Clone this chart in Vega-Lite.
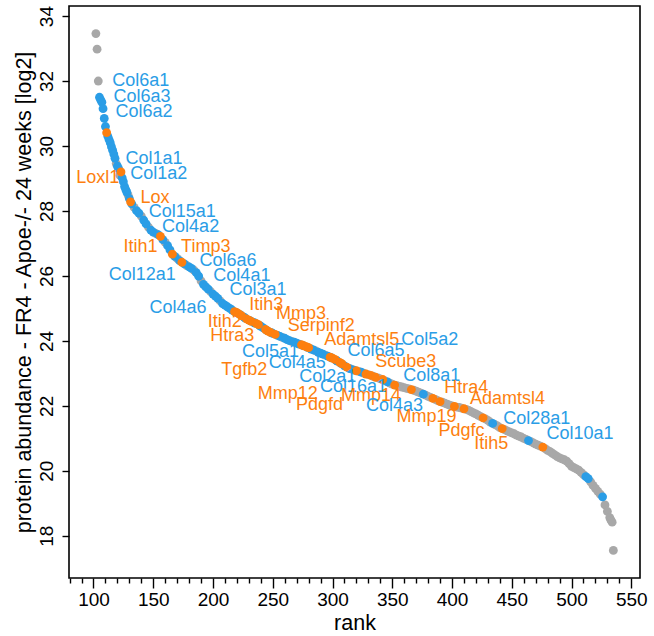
{
  "$schema": "https://vega.github.io/schema/vega-lite/v6.json",
  "width": 571,
  "height": 572,
  "autosize": "none",
  "padding": {"left": 69, "top": 6, "right": 13, "bottom": 58},
  "background": "white",
  "config": {
    "view": {"stroke": "black", "strokeWidth": 1.6},
    "axis": {
      "labelFont": "Liberation Sans",
      "labelFontSize": 19,
      "labelColor": "black",
      "titleFont": "Liberation Sans",
      "titleFontSize": 21.5,
      "titleFontWeight": "normal",
      "titleColor": "black",
      "tickColor": "black",
      "tickWidth": 1.4,
      "grid": false,
      "domain": false
    }
  },
  "datasets": {
    "points": [
      {"rank": 102, "abundance": 33.46, "group": "other"},
      {"rank": 103, "abundance": 32.98, "group": "other"},
      {"rank": 104, "abundance": 32.0, "group": "other"},
      {"rank": 119, "abundance": 29.46, "group": "other"},
      {"rank": 122, "abundance": 29.1, "group": "other"},
      {"rank": 129, "abundance": 28.48, "group": "other"},
      {"rank": 134, "abundance": 28.11, "group": "other"},
      {"rank": 140, "abundance": 27.84, "group": "other"},
      {"rank": 146, "abundance": 27.5, "group": "other"},
      {"rank": 152, "abundance": 27.31, "group": "other"},
      {"rank": 160, "abundance": 27.03, "group": "other"},
      {"rank": 170, "abundance": 26.54, "group": "other"},
      {"rank": 178, "abundance": 26.32, "group": "other"},
      {"rank": 184, "abundance": 26.18, "group": "other"},
      {"rank": 190, "abundance": 25.85, "group": "other"},
      {"rank": 198, "abundance": 25.52, "group": "other"},
      {"rank": 206, "abundance": 25.23, "group": "other"},
      {"rank": 258, "abundance": 24.11, "group": "other"},
      {"rank": 266, "abundance": 23.98, "group": "other"},
      {"rank": 286, "abundance": 23.69, "group": "other"},
      {"rank": 294, "abundance": 23.56, "group": "other"},
      {"rank": 316, "abundance": 23.13, "group": "other"},
      {"rank": 322, "abundance": 23.06, "group": "other"},
      {"rank": 326, "abundance": 23.01, "group": "other"},
      {"rank": 330, "abundance": 22.96, "group": "other"},
      {"rank": 334, "abundance": 22.91, "group": "other"},
      {"rank": 338, "abundance": 22.86, "group": "other"},
      {"rank": 340, "abundance": 22.83, "group": "other"},
      {"rank": 344, "abundance": 22.77, "group": "other"},
      {"rank": 348, "abundance": 22.7, "group": "other"},
      {"rank": 350, "abundance": 22.67, "group": "other"},
      {"rank": 354, "abundance": 22.62, "group": "other"},
      {"rank": 356, "abundance": 22.6, "group": "other"},
      {"rank": 358, "abundance": 22.58, "group": "other"},
      {"rank": 360, "abundance": 22.56, "group": "other"},
      {"rank": 362, "abundance": 22.54, "group": "other"},
      {"rank": 364, "abundance": 22.52, "group": "other"},
      {"rank": 368, "abundance": 22.48, "group": "other"},
      {"rank": 370, "abundance": 22.45, "group": "other"},
      {"rank": 372, "abundance": 22.42, "group": "other"},
      {"rank": 374, "abundance": 22.39, "group": "other"},
      {"rank": 378, "abundance": 22.33, "group": "other"},
      {"rank": 380, "abundance": 22.29, "group": "other"},
      {"rank": 382, "abundance": 22.26, "group": "other"},
      {"rank": 386, "abundance": 22.2, "group": "other"},
      {"rank": 388, "abundance": 22.16, "group": "other"},
      {"rank": 392, "abundance": 22.11, "group": "other"},
      {"rank": 394, "abundance": 22.08, "group": "other"},
      {"rank": 396, "abundance": 22.05, "group": "other"},
      {"rank": 398, "abundance": 22.02, "group": "other"},
      {"rank": 400, "abundance": 22.0, "group": "other"},
      {"rank": 404, "abundance": 21.96, "group": "other"},
      {"rank": 406, "abundance": 21.95, "group": "other"},
      {"rank": 408, "abundance": 21.93, "group": "other"},
      {"rank": 412, "abundance": 21.89, "group": "other"},
      {"rank": 414, "abundance": 21.86, "group": "other"},
      {"rank": 416, "abundance": 21.82, "group": "other"},
      {"rank": 418, "abundance": 21.78, "group": "other"},
      {"rank": 420, "abundance": 21.75, "group": "other"},
      {"rank": 422, "abundance": 21.71, "group": "other"},
      {"rank": 424, "abundance": 21.67, "group": "other"},
      {"rank": 428, "abundance": 21.6, "group": "other"},
      {"rank": 430, "abundance": 21.55, "group": "other"},
      {"rank": 432, "abundance": 21.5, "group": "other"},
      {"rank": 436, "abundance": 21.42, "group": "other"},
      {"rank": 438, "abundance": 21.38, "group": "other"},
      {"rank": 440, "abundance": 21.33, "group": "other"},
      {"rank": 444, "abundance": 21.27, "group": "other"},
      {"rank": 446, "abundance": 21.23, "group": "other"},
      {"rank": 448, "abundance": 21.2, "group": "other"},
      {"rank": 450, "abundance": 21.17, "group": "other"},
      {"rank": 452, "abundance": 21.14, "group": "other"},
      {"rank": 454, "abundance": 21.1, "group": "other"},
      {"rank": 456, "abundance": 21.07, "group": "other"},
      {"rank": 458, "abundance": 21.04, "group": "other"},
      {"rank": 460, "abundance": 21.0, "group": "other"},
      {"rank": 462, "abundance": 20.97, "group": "other"},
      {"rank": 466, "abundance": 20.9, "group": "other"},
      {"rank": 468, "abundance": 20.86, "group": "other"},
      {"rank": 470, "abundance": 20.82, "group": "other"},
      {"rank": 472, "abundance": 20.79, "group": "other"},
      {"rank": 474, "abundance": 20.76, "group": "other"},
      {"rank": 478, "abundance": 20.68, "group": "other"},
      {"rank": 480, "abundance": 20.63, "group": "other"},
      {"rank": 482, "abundance": 20.59, "group": "other"},
      {"rank": 484, "abundance": 20.54, "group": "other"},
      {"rank": 486, "abundance": 20.49, "group": "other"},
      {"rank": 488, "abundance": 20.44, "group": "other"},
      {"rank": 490, "abundance": 20.4, "group": "other"},
      {"rank": 492, "abundance": 20.37, "group": "other"},
      {"rank": 494, "abundance": 20.34, "group": "other"},
      {"rank": 496, "abundance": 20.3, "group": "other"},
      {"rank": 498, "abundance": 20.22, "group": "other"},
      {"rank": 500, "abundance": 20.14, "group": "other"},
      {"rank": 502, "abundance": 20.1, "group": "other"},
      {"rank": 504, "abundance": 20.06, "group": "other"},
      {"rank": 506, "abundance": 20.02, "group": "other"},
      {"rank": 508, "abundance": 19.95, "group": "other"},
      {"rank": 510, "abundance": 19.88, "group": "other"},
      {"rank": 516, "abundance": 19.66, "group": "other"},
      {"rank": 518, "abundance": 19.55, "group": "other"},
      {"rank": 520, "abundance": 19.46, "group": "other"},
      {"rank": 522, "abundance": 19.37, "group": "other"},
      {"rank": 524, "abundance": 19.28, "group": "other"},
      {"rank": 528, "abundance": 18.95, "group": "other"},
      {"rank": 530, "abundance": 18.75, "group": "other"},
      {"rank": 532, "abundance": 18.56, "group": "other"},
      {"rank": 533, "abundance": 18.48, "group": "other"},
      {"rank": 534, "abundance": 18.42, "group": "other"},
      {"rank": 535, "abundance": 17.55, "group": "other"},
      {"rank": 105, "abundance": 31.5, "group": "collagen"},
      {"rank": 106, "abundance": 31.42, "group": "collagen"},
      {"rank": 107, "abundance": 31.35, "group": "collagen"},
      {"rank": 108, "abundance": 31.15, "group": "collagen"},
      {"rank": 109, "abundance": 30.85, "group": "collagen"},
      {"rank": 110, "abundance": 30.6, "group": "collagen"},
      {"rank": 112, "abundance": 30.3, "group": "collagen"},
      {"rank": 113, "abundance": 30.2, "group": "collagen"},
      {"rank": 114, "abundance": 30.1, "group": "collagen"},
      {"rank": 115, "abundance": 29.98, "group": "collagen"},
      {"rank": 116, "abundance": 29.87, "group": "collagen"},
      {"rank": 117, "abundance": 29.75, "group": "collagen"},
      {"rank": 118, "abundance": 29.62, "group": "collagen"},
      {"rank": 120, "abundance": 29.38, "group": "collagen"},
      {"rank": 121, "abundance": 29.3, "group": "collagen"},
      {"rank": 124, "abundance": 29.02, "group": "collagen"},
      {"rank": 125, "abundance": 28.9, "group": "collagen"},
      {"rank": 126, "abundance": 28.75, "group": "collagen"},
      {"rank": 127, "abundance": 28.66, "group": "collagen"},
      {"rank": 128, "abundance": 28.57, "group": "collagen"},
      {"rank": 130, "abundance": 28.38, "group": "collagen"},
      {"rank": 132, "abundance": 28.22, "group": "collagen"},
      {"rank": 136, "abundance": 28.01, "group": "collagen"},
      {"rank": 138, "abundance": 27.93, "group": "collagen"},
      {"rank": 142, "abundance": 27.72, "group": "collagen"},
      {"rank": 144, "abundance": 27.6, "group": "collagen"},
      {"rank": 148, "abundance": 27.41, "group": "collagen"},
      {"rank": 150, "abundance": 27.35, "group": "collagen"},
      {"rank": 154, "abundance": 27.27, "group": "collagen"},
      {"rank": 158, "abundance": 27.12, "group": "collagen"},
      {"rank": 162, "abundance": 26.93, "group": "collagen"},
      {"rank": 164, "abundance": 26.8, "group": "collagen"},
      {"rank": 168, "abundance": 26.6, "group": "collagen"},
      {"rank": 172, "abundance": 26.47, "group": "collagen"},
      {"rank": 176, "abundance": 26.37, "group": "collagen"},
      {"rank": 180, "abundance": 26.28, "group": "collagen"},
      {"rank": 182, "abundance": 26.23, "group": "collagen"},
      {"rank": 186, "abundance": 26.1, "group": "collagen"},
      {"rank": 188, "abundance": 25.99, "group": "collagen"},
      {"rank": 192, "abundance": 25.74, "group": "collagen"},
      {"rank": 194, "abundance": 25.66, "group": "collagen"},
      {"rank": 196, "abundance": 25.59, "group": "collagen"},
      {"rank": 200, "abundance": 25.44, "group": "collagen"},
      {"rank": 202, "abundance": 25.38, "group": "collagen"},
      {"rank": 204, "abundance": 25.31, "group": "collagen"},
      {"rank": 208, "abundance": 25.15, "group": "collagen"},
      {"rank": 210, "abundance": 25.1, "group": "collagen"},
      {"rank": 212, "abundance": 25.05, "group": "collagen"},
      {"rank": 214, "abundance": 25.0, "group": "collagen"},
      {"rank": 216, "abundance": 24.95, "group": "collagen"},
      {"rank": 219, "abundance": 24.88, "group": "collagen"},
      {"rank": 223, "abundance": 24.8, "group": "collagen"},
      {"rank": 226, "abundance": 24.73, "group": "collagen"},
      {"rank": 227, "abundance": 24.7, "group": "collagen"},
      {"rank": 231, "abundance": 24.62, "group": "collagen"},
      {"rank": 234, "abundance": 24.57, "group": "collagen"},
      {"rank": 235, "abundance": 24.55, "group": "collagen"},
      {"rank": 239, "abundance": 24.47, "group": "collagen"},
      {"rank": 240, "abundance": 24.45, "group": "collagen"},
      {"rank": 242, "abundance": 24.4, "group": "collagen"},
      {"rank": 245, "abundance": 24.32, "group": "collagen"},
      {"rank": 249, "abundance": 24.25, "group": "collagen"},
      {"rank": 250, "abundance": 24.23, "group": "collagen"},
      {"rank": 254, "abundance": 24.17, "group": "collagen"},
      {"rank": 256, "abundance": 24.14, "group": "collagen"},
      {"rank": 260, "abundance": 24.08, "group": "collagen"},
      {"rank": 262, "abundance": 24.04, "group": "collagen"},
      {"rank": 264, "abundance": 24.01, "group": "collagen"},
      {"rank": 268, "abundance": 23.96, "group": "collagen"},
      {"rank": 270, "abundance": 23.93, "group": "collagen"},
      {"rank": 272, "abundance": 23.9, "group": "collagen"},
      {"rank": 275, "abundance": 23.86, "group": "collagen"},
      {"rank": 279, "abundance": 23.8, "group": "collagen"},
      {"rank": 282, "abundance": 23.75, "group": "collagen"},
      {"rank": 284, "abundance": 23.72, "group": "collagen"},
      {"rank": 288, "abundance": 23.65, "group": "collagen"},
      {"rank": 290, "abundance": 23.62, "group": "collagen"},
      {"rank": 292, "abundance": 23.59, "group": "collagen"},
      {"rank": 296, "abundance": 23.53, "group": "collagen"},
      {"rank": 299, "abundance": 23.48, "group": "collagen"},
      {"rank": 303, "abundance": 23.4, "group": "collagen"},
      {"rank": 304, "abundance": 23.38, "group": "collagen"},
      {"rank": 307, "abundance": 23.31, "group": "collagen"},
      {"rank": 310, "abundance": 23.23, "group": "collagen"},
      {"rank": 314, "abundance": 23.15, "group": "collagen"},
      {"rank": 318, "abundance": 23.1, "group": "collagen"},
      {"rank": 324, "abundance": 23.04, "group": "collagen"},
      {"rank": 346, "abundance": 22.74, "group": "collagen"},
      {"rank": 376, "abundance": 22.36, "group": "collagen"},
      {"rank": 434, "abundance": 21.46, "group": "collagen"},
      {"rank": 464, "abundance": 20.93, "group": "collagen"},
      {"rank": 512, "abundance": 19.82, "group": "collagen"},
      {"rank": 514, "abundance": 19.76, "group": "collagen"},
      {"rank": 526, "abundance": 19.2, "group": "collagen"},
      {"rank": 111, "abundance": 30.41, "group": "ECM regulator"},
      {"rank": 123, "abundance": 29.2, "group": "ECM regulator"},
      {"rank": 131, "abundance": 28.28, "group": "ECM regulator"},
      {"rank": 156, "abundance": 27.22, "group": "ECM regulator"},
      {"rank": 166, "abundance": 26.67, "group": "ECM regulator"},
      {"rank": 174, "abundance": 26.42, "group": "ECM regulator"},
      {"rank": 218, "abundance": 24.9, "group": "ECM regulator"},
      {"rank": 220, "abundance": 24.87, "group": "ECM regulator"},
      {"rank": 222, "abundance": 24.82, "group": "ECM regulator"},
      {"rank": 224, "abundance": 24.77, "group": "ECM regulator"},
      {"rank": 228, "abundance": 24.68, "group": "ECM regulator"},
      {"rank": 230, "abundance": 24.64, "group": "ECM regulator"},
      {"rank": 232, "abundance": 24.6, "group": "ECM regulator"},
      {"rank": 236, "abundance": 24.54, "group": "ECM regulator"},
      {"rank": 238, "abundance": 24.5, "group": "ECM regulator"},
      {"rank": 244, "abundance": 24.35, "group": "ECM regulator"},
      {"rank": 246, "abundance": 24.3, "group": "ECM regulator"},
      {"rank": 248, "abundance": 24.26, "group": "ECM regulator"},
      {"rank": 252, "abundance": 24.2, "group": "ECM regulator"},
      {"rank": 274, "abundance": 23.88, "group": "ECM regulator"},
      {"rank": 276, "abundance": 23.85, "group": "ECM regulator"},
      {"rank": 278, "abundance": 23.82, "group": "ECM regulator"},
      {"rank": 280, "abundance": 23.79, "group": "ECM regulator"},
      {"rank": 298, "abundance": 23.5, "group": "ECM regulator"},
      {"rank": 300, "abundance": 23.47, "group": "ECM regulator"},
      {"rank": 302, "abundance": 23.43, "group": "ECM regulator"},
      {"rank": 306, "abundance": 23.34, "group": "ECM regulator"},
      {"rank": 308, "abundance": 23.29, "group": "ECM regulator"},
      {"rank": 312, "abundance": 23.19, "group": "ECM regulator"},
      {"rank": 320, "abundance": 23.08, "group": "ECM regulator"},
      {"rank": 328, "abundance": 22.98, "group": "ECM regulator"},
      {"rank": 332, "abundance": 22.94, "group": "ECM regulator"},
      {"rank": 336, "abundance": 22.88, "group": "ECM regulator"},
      {"rank": 342, "abundance": 22.81, "group": "ECM regulator"},
      {"rank": 352, "abundance": 22.64, "group": "ECM regulator"},
      {"rank": 366, "abundance": 22.5, "group": "ECM regulator"},
      {"rank": 384, "abundance": 22.23, "group": "ECM regulator"},
      {"rank": 390, "abundance": 22.13, "group": "ECM regulator"},
      {"rank": 402, "abundance": 21.98, "group": "ECM regulator"},
      {"rank": 410, "abundance": 21.91, "group": "ECM regulator"},
      {"rank": 426, "abundance": 21.63, "group": "ECM regulator"},
      {"rank": 442, "abundance": 21.3, "group": "ECM regulator"},
      {"rank": 476, "abundance": 20.73, "group": "ECM regulator"}
    ],
    "labels": [
      {"protein": "Col6a1", "label_rank": 115.6, "label_abundance": 32.0, "group": "collagen"},
      {"protein": "Col6a3", "label_rank": 116.7, "label_abundance": 31.51, "group": "collagen"},
      {"protein": "Col6a2", "label_rank": 118.4, "label_abundance": 31.04, "group": "collagen"},
      {"protein": "Col1a1", "label_rank": 126.8, "label_abundance": 29.59, "group": "collagen"},
      {"protein": "Col1a2", "label_rank": 130.7, "label_abundance": 29.14, "group": "collagen"},
      {"protein": "Loxl1", "label_rank": 85.5, "label_abundance": 29.0, "group": "ECM regulator"},
      {"protein": "Lox", "label_rank": 139.3, "label_abundance": 28.41, "group": "ECM regulator"},
      {"protein": "Col15a1", "label_rank": 146.2, "label_abundance": 27.97, "group": "collagen"},
      {"protein": "Col4a2", "label_rank": 157.4, "label_abundance": 27.51, "group": "collagen"},
      {"protein": "Itih1", "label_rank": 125.1, "label_abundance": 26.89, "group": "ECM regulator"},
      {"protein": "Timp3", "label_rank": 173.3, "label_abundance": 26.89, "group": "ECM regulator"},
      {"protein": "Col6a6", "label_rank": 188.6, "label_abundance": 26.45, "group": "collagen"},
      {"protein": "Col12a1", "label_rank": 112.8, "label_abundance": 26.02, "group": "collagen"},
      {"protein": "Col4a1", "label_rank": 200.3, "label_abundance": 25.99, "group": "collagen"},
      {"protein": "Col3a1", "label_rank": 213.7, "label_abundance": 25.56, "group": "collagen"},
      {"protein": "Col4a6", "label_rank": 146.8, "label_abundance": 25.0, "group": "collagen"},
      {"protein": "Itih3", "label_rank": 230.4, "label_abundance": 25.1, "group": "ECM regulator"},
      {"protein": "Itih2", "label_rank": 195.6, "label_abundance": 24.58, "group": "ECM regulator"},
      {"protein": "Htra3", "label_rank": 197.6, "label_abundance": 24.14, "group": "ECM regulator"},
      {"protein": "Col5a1", "label_rank": 224.3, "label_abundance": 23.66, "group": "collagen"},
      {"protein": "Tgfb2", "label_rank": 206.8, "label_abundance": 23.1, "group": "ECM regulator"},
      {"protein": "Mmp3", "label_rank": 252.8, "label_abundance": 24.84, "group": "ECM regulator"},
      {"protein": "Serpinf2", "label_rank": 262.5, "label_abundance": 24.45, "group": "ECM regulator"},
      {"protein": "Adamtsl5", "label_rank": 293.1, "label_abundance": 24.04, "group": "ECM regulator"},
      {"protein": "Col5a2", "label_rank": 357.5, "label_abundance": 24.04, "group": "collagen"},
      {"protein": "Col6a5", "label_rank": 312.6, "label_abundance": 23.68, "group": "collagen"},
      {"protein": "Col4a5", "label_rank": 246.6, "label_abundance": 23.32, "group": "collagen"},
      {"protein": "Scube3", "label_rank": 335.8, "label_abundance": 23.34, "group": "ECM regulator"},
      {"protein": "Col2a1", "label_rank": 272.2, "label_abundance": 22.89, "group": "collagen"},
      {"protein": "Col8a1", "label_rank": 359.2, "label_abundance": 22.91, "group": "collagen"},
      {"protein": "Col16a1", "label_rank": 289.5, "label_abundance": 22.58, "group": "collagen"},
      {"protein": "Mmp12", "label_rank": 237.4, "label_abundance": 22.38, "group": "ECM regulator"},
      {"protein": "Mmp14", "label_rank": 307.1, "label_abundance": 22.3, "group": "ECM regulator"},
      {"protein": "Htra4", "label_rank": 393.5, "label_abundance": 22.54, "group": "ECM regulator"},
      {"protein": "Pdgfd", "label_rank": 269.5, "label_abundance": 22.02, "group": "ECM regulator"},
      {"protein": "Col4a3", "label_rank": 328.0, "label_abundance": 22.0, "group": "collagen"},
      {"protein": "Adamtsl4", "label_rank": 415.0, "label_abundance": 22.2, "group": "ECM regulator"},
      {"protein": "Mmp19", "label_rank": 353.6, "label_abundance": 21.66, "group": "ECM regulator"},
      {"protein": "Col28a1", "label_rank": 442.8, "label_abundance": 21.61, "group": "collagen"},
      {"protein": "Pdgfc", "label_rank": 388.7, "label_abundance": 21.23, "group": "ECM regulator"},
      {"protein": "Col10a1", "label_rank": 479.0, "label_abundance": 21.13, "group": "collagen"},
      {"protein": "Itih5", "label_rank": 418.6, "label_abundance": 20.84, "group": "ECM regulator"}
    ]
  },
  "layer": [
    {
      "data": {"name": "points"},
      "mark": {"type": "circle", "size": 78, "opacity": 1, "strokeWidth": 0},
      "encoding": {
        "x": {
          "field": "rank",
          "type": "quantitative",
          "scale": {"domain": [79.5, 557.3], "nice": false, "zero": false},
          "axis": {
            "title": "rank",
            "values": [80, 90, 100, 110, 120, 130, 140, 150, 160, 170, 180, 190, 200, 210, 220, 230, 240, 250, 260, 270, 280, 290, 300, 310, 320, 330, 340, 350, 360, 370, 380, 390, 400, 410, 420, 430, 440, 450, 460, 470, 480, 490, 500, 510, 520, 530, 540, 550],
            "tickCount": 200,
            "format": "d",
            "labelExpr": "datum.value % 50 === 0 ? datum.label : ''",
            "tickSize": {"condition": {"test": "datum.value % 50 === 0", "value": 10}, "value": 5},
            "labelPadding": 2,
            "labelFlush": false,
            "labelOverlap": false,
            "titlePadding": 3
          }
        },
        "y": {
          "field": "abundance",
          "type": "quantitative",
          "scale": {"domain": [16.7, 34.31], "nice": false, "zero": false},
          "axis": {
            "title": "protein abundance - FR4 - Apoe-/- 24 weeks [log2]",
            "values": [18, 20, 22, 24, 26, 28, 30, 32, 34],
            "tickCount": 50,
            "format": "d",
            "tickSize": 7,
            "labelAngle": -90,
            "labelAlign": "center",
            "labelBaseline": "bottom",
            "labelPadding": 6,
            "labelFlush": false,
            "labelOverlap": false,
            "titlePadding": 2
          }
        },
        "color": {
          "field": "group",
          "type": "nominal",
          "scale": {"domain": ["other", "collagen", "ECM regulator"], "range": ["#a8a8a8", "#2a9de6", "#fd7f0f"]},
          "legend": null
        }
      }
    },
    {
      "data": {"name": "labels"},
      "mark": {"type": "text", "align": "left", "baseline": "middle", "font": "Liberation Sans", "fontSize": 18},
      "encoding": {
        "x": {"field": "label_rank", "type": "quantitative"},
        "y": {"field": "label_abundance", "type": "quantitative"},
        "text": {"field": "protein"},
        "color": {"field": "group", "type": "nominal", "legend": null}
      }
    }
  ]
}
